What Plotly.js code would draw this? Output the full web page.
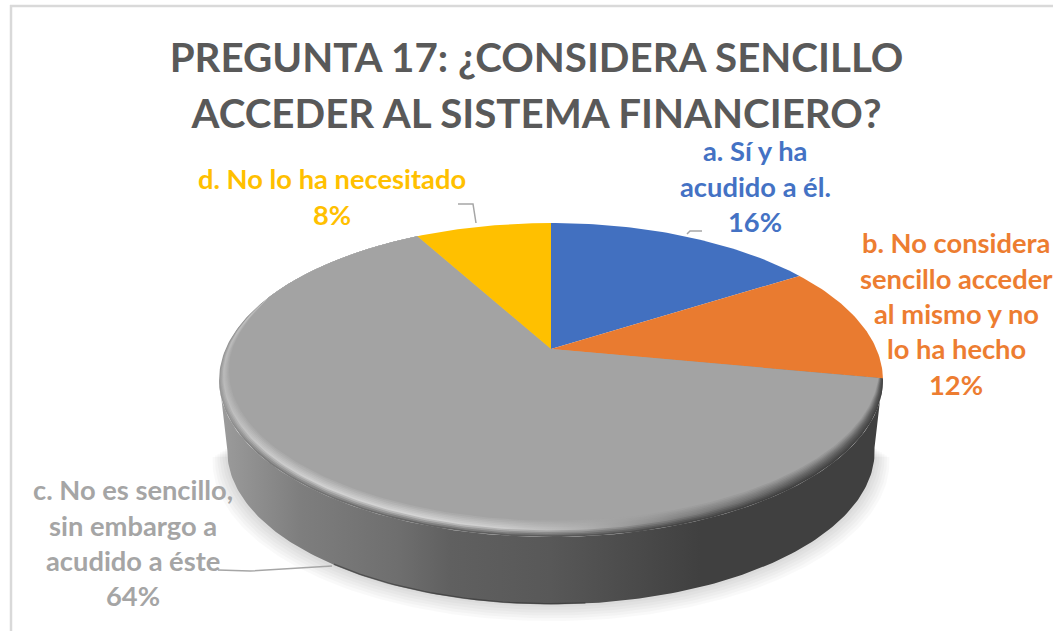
<!DOCTYPE html>
<html>
<head>
<meta charset="utf-8">
<script src="https://cdn.plot.ly/plotly-3.0.1.min.js"></script>
<style>html,body{margin:0;padding:0;background:#fff;overflow:hidden}</style>
</head>
<body>
<div id="chart" style="width:1053px;height:631px"></div>
<script>
// ---- data ----
const titleText = 'PREGUNTA 17: ¿CONSIDERA SENCILLO<br>ACCEDER AL SISTEMA FINANCIERO?';
const categories = [
  'a. Sí y ha acudido a él.',
  'b. No considera sencillo acceder al mismo y no lo ha hecho',
  'c. No es sencillo, sin embargo a acudido a éste',
  'd. No lo ha necesitado'
];
const values = [16, 12, 64, 8];
const labelLines = [
  ['a. Sí y ha', 'acudido a él.'],
  ['b. No considera', 'sencillo acceder', 'al mismo y no', 'lo ha hecho'],
  ['c. No es sencillo,', 'sin embargo a', 'acudido a éste'],
  ['d. No lo ha necesitado']
];
const sliceColors = ['#4270C0', '#E97B30', '#A3A3A3', '#FFC000'];
const labelColors = ['#4472C4', '#ED7D31', '#A5A5A5', '#FFC000'];

// ---- layout of the picture (positions / styling, not data) ----
const W = 1053, H = 631;
const labelCenterX = [755, 956, 133, 332];
const labelFirstBaseline = [160, 252, 499, 188];
const labelStep = 35.3, labelSize = 27.3;
const view = {cx: 551, cy: 349, R: 325.4, A: 150.9, c: 0.1975};
const wallDrop = 72, wallScale = 0.975;
const rimStopsX = [219, 260, 320, 420, 500, 580, 680, 780, 883];
const rimHighlight = [185, 200, 208, 212, 205, 178, 130, 105, 90];
const rimEdge = [150, 125, 115, 100, 95, 88, 70, 64, 64];
const wallStops = [[225,154],[300,126],[400,110],[450,96],[550,88],[650,72],[700,64],[883,64]];
const baseGrey = 163;

// ---- projection helpers ----
const rad = d => d * Math.PI / 180;
function project(deg, r, drop, scale) {
  r = r === undefined ? 1 : r; drop = drop || 0; scale = scale || 1;
  const X = r * Math.sin(rad(deg)), Y = r * Math.cos(rad(deg)), w = 1 + view.c * Y;
  return [view.cx + scale * view.R * X / w, view.cy + drop - scale * view.A * Y / w];
}
function arc(from, to, rFn, drop, scale) {
  const pts = [], n = Math.max(2, Math.ceil(Math.abs(to - from)));
  for (let i = 0; i <= n; i++) {
    const d = from + (to - from) * i / n;
    pts.push(project(d, rFn ? rFn(d) : 1, drop, scale));
  }
  return pts;
}
const grey = g => { const v = Math.round(g); return `rgb(${v},${v},${v})`; };
const poly = (pts, extra) => Object.assign({
  type: 'scatter', mode: 'lines', x: pts.map(p => p[0]), y: pts.map(p => p[1]),
  fill: 'toself', line: {width: 0}, hoverinfo: 'skip', showlegend: false
}, extra);

// ---- slices from the values ----
const total = values.reduce((a, b) => a + b, 0);
const bounds = [0];
values.forEach(v => bounds.push(bounds[bounds.length - 1] + v / total * 360));
const apex = [view.cx, view.cy];

const traces = [];

// soft shadow under the drum
for (let i = 6; i >= 1; i--) {
  const s = wallScale + i * 0.0075;
  traces.push(poly(arc(100, 260, null, wallDrop + i * 1.4, s), {fillcolor: 'rgba(0,0,0,0.022)'}));
}

// drum side wall
const wallPts = arc(100, 259).concat(arc(259, 100, null, wallDrop, wallScale));
const wx0 = wallStops[0][0], wx1 = wallStops[wallStops.length - 1][0];
traces.push(poly(wallPts, {
  fillcolor: '#606060',
  fillgradient: {type: 'horizontal', start: wx0, stop: wx1,
    colorscale: wallStops.map(s => [(s[0] - wx0) / (wx1 - wx0), grey(s[1])])}
}));
// darker lower edge of the wall
const edge = arc(175, 215, null, wallDrop - 0.5, wallScale);
traces.push({type: 'scatter', mode: 'lines', x: edge.map(p => p[0]), y: edge.map(p => p[1]),
  line: {color: 'rgba(50,50,50,0.55)', width: 1.5}, hoverinfo: 'skip', showlegend: false});

// bevel on the large slice
const bevelFrom = bounds[2], bevelTo = 291, w0 = 0.072;
function bevelWidth(d) {
  if (d <= 95 || d >= bevelTo) return 0;
  const u = (d - 95) / (bevelTo - 95);
  return w0 * Math.pow(Math.sin(Math.PI * u), 0.5) * (0.5 + 0.5 * Math.max(0, -Math.cos(rad(d))));
}
const N = 10;
const x0 = rimStopsX[0], x1 = rimStopsX[rimStopsX.length - 1];
for (let k = 0; k < N; k++) {
  const t = k / N;
  const rFn = d => 1 - bevelWidth(d) * t;
  const pts = [apex].concat(arc(bevelFrom, bounds[3], rFn));
  pts.push(apex);
  const colorscale = rimStopsX.map((x, i) => {
    let g;
    if (t < 0.4) g = rimEdge[i] + (rimHighlight[i] - rimEdge[i]) * (t / 0.4);
    else g = rimHighlight[i] + (baseGrey - rimHighlight[i]) * ((t - 0.4) / 0.6);
    return [(x - x0) / (x1 - x0), grey(g)];
  });
  traces.push(poly(pts, {fillcolor: '#a3a3a3',
    fillgradient: {type: 'horizontal', start: x0, stop: x1, colorscale}}));
}

// top faces
values.forEach((v, i) => {
  const inner = i === 2 ? (d => 1 - bevelWidth(d)) : null;
  const pts = [apex].concat(arc(bounds[i], bounds[i + 1], inner));
  pts.push(apex);
  traces.push(poly(pts, {
    name: categories[i], fillcolor: sliceColors[i], hoveron: 'fills',
    hoverinfo: 'name', text: categories[i]
  }));
});

// ---- labels ----
const annotations = [];
labelLines.forEach((lines, i) => {
  const all = lines.concat([Math.round(values[i] / total * 100) + '%']);
  all.forEach((t, j) => annotations.push({
    xref: 'x', yref: 'y', x: labelCenterX[i], y: labelFirstBaseline[i] + j * labelStep - labelSize * 0.33,
    text: t, showarrow: false, xanchor: 'center', yanchor: 'middle',
    font: {family: 'Lato, sans-serif', size: labelSize, weight: 700, color: labelColors[i]}
  }));
});

// ---- frame and leader lines ----
const leaderColor = '#A6A6A6';
const shapes = [
  {type: 'line', xref: 'x', yref: 'y', x0: 11, x1: 11, y0: 5, y1: 631, line: {color: '#D9D9D9', width: 2.5}},
  {type: 'line', xref: 'x', yref: 'y', x0: 10, x1: 1053, y0: 6, y1: 6, line: {color: '#D9D9D9', width: 2.5}},
  {type: 'path', xref: 'x', yref: 'y', path: 'M458,204 L473,204 L476,223', line: {color: leaderColor, width: 1.5}},
  {type: 'path', xref: 'x', yref: 'y', path: 'M702,231 L690,231 L687,234', line: {color: leaderColor, width: 1.5}},
  {type: 'path', xref: 'x', yref: 'y', path: 'M218,570 L250,571 L332,566', line: {color: leaderColor, width: 1.5}}
];

const layout = {
  width: W, height: H,
  margin: {l: 0, r: 0, t: 0, b: 0},
  paper_bgcolor: '#fff', plot_bgcolor: '#fff',
  showlegend: false,
  hovermode: 'closest',
  title: {
    text: titleText, x: 536.5 / W, xanchor: 'center', xref: 'paper',
    y: 1 - 72 / H, yanchor: 'top', yref: 'paper',
    font: {family: 'Lato, sans-serif', size: 40.3, weight: 700, color: '#595959'}
  },
  xaxis: {range: [0, W], visible: false, fixedrange: true},
  yaxis: {range: [H, 0], visible: false, fixedrange: true},
  annotations, shapes
};
Plotly.newPlot('chart', traces, layout, {displayModeBar: false, responsive: false}).then(() => {
  // the reference's title lines sit a little further apart than Plotly's fixed 1.3em
  const lines = document.querySelectorAll('.gtitle tspan.line');
  if (lines.length > 1) lines[1].setAttribute('y', parseFloat(lines[1].getAttribute('y')) + 3.6);
});
</script>
</body>
</html>
